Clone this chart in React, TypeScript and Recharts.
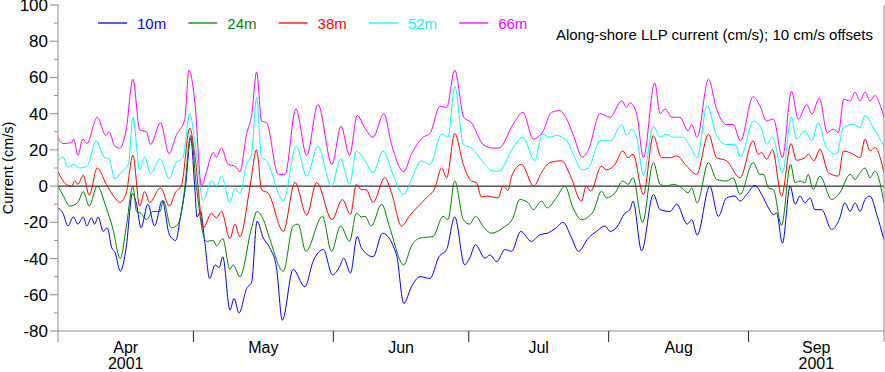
import React from 'react';
import { LineChart, Line, XAxis, YAxis, ReferenceLine } from 'recharts';

// day 0 = 1 Apr 2001, day 183 = 1 Oct 2001
const monthNames = ['Apr', 'May', 'Jun', 'Jul', 'Aug', 'Sep'];
const monthStarts = [0, 30, 61, 91, 122, 153, 183];
const yearLabel = '2001';
const yTicks = [-80, -70, -60, -50, -40, -30, -20, -10, 0, 10, 20, 30, 40, 50, 60, 70, 80, 90, 100];

const seriesNames = ['10m', '24m', '38m', '52m', '66m'];
const seriesColors = ['#0000ff', '#008000', '#ff0000', '#00ffff', '#ff00ff'];

const s10: [number, number][] = [[0,-12],[1.1,-15],[2.2,-22],[3.4,-17],[4.4,-21],[5.6,-17],[6.4,-22],[7.4,-17.5],[8.1,-21],[8.9,-17],[10,-25],[10.9,-23],[11.9,-34],[12.7,-37],[13.8,-47],[15.1,-34],[16.5,-4],[17.4,-10],[18.4,-23],[19.9,-10],[21.4,-22],[23.1,-8],[24.7,-27],[26.1,-30],[27,-19],[28.3,1],[29.4,26.5],[30.3,-1],[30.8,-17],[31.6,-14],[32.5,-30.5],[33.6,-51],[34.8,-43.5],[35.7,-45],[36.5,-39],[38.1,-68.5],[39.0,-62],[40.1,-70],[41.8,-56.5],[42.9,-53],[44.1,-19.4],[45.5,-28.7],[46.9,-34],[48.4,-45],[49.7,-74],[52.1,-46],[54.7,-55.6],[56.5,-41.7],[58.8,-35],[60.8,-49],[62.4,-44.4],[63.3,-39.8],[64.8,-48],[66.3,-27.8],[67.2,-34],[69.8,-39],[71.9,-26],[75,-38],[76.6,-64.8],[78.3,-55.6],[80.2,-50],[82.4,-51],[84.4,-39],[86.1,-35],[87.9,-17],[90.1,-43.5],[91.2,-39.8],[92.5,-32.4],[94.6,-39.8],[95.7,-38],[97.2,-41.7],[99,-35],[100.5,-36],[102.5,-25],[104.9,-30.5],[106.8,-26.8],[108.4,-26],[110.4,-23],[111.9,-20],[113.8,-28.7],[115.3,-36],[117.5,-28.7],[119.3,-25],[121.2,-22],[122.3,-25],[123.7,-23],[125.6,-15],[126.7,-13],[127.4,-8.3],[129.3,-35.7],[131.9,-4.6],[133.4,-13],[135.6,-14],[137.1,-10],[139.4,-21],[140.4,-18.5],[141.6,-27],[144.4,0],[146.3,-16.7],[148.1,-6.5],[150,-5.5],[151.1,-8.3],[152.6,-4.6],[154.4,0.4],[155.9,-4.6],[157.4,-12],[158.5,-15.7],[159.2,-14.8],[160.5,-31.5],[162.2,0],[163.3,-10],[164.4,-5.5],[165.5,-9.3],[166.6,-6.5],[167.7,-13],[169.2,-13],[171.4,-24],[173.2,-17.6],[174.3,-9.3],[175.5,-13.9],[176.6,-9.3],[177.7,-13.9],[178.8,-7.4],[179.9,-5.5],[181.4,-15.7],[183,-29.6]];

const s24: [number, number][] = [[0,0],[1.1,-5],[2.6,-11],[4.4,-9],[5.6,-3],[6.9,-11],[8.7,0],[10.7,-12],[12.1,-23],[13.8,-40],[15.1,-23],[16.6,0],[17.4,-14],[18.4,-15],[19.6,-18.5],[21.0,-14],[22.6,-14],[23.3,-8],[25.1,-23],[26.6,-21],[27.9,-5],[29.4,28],[30.7,-1],[32.2,-27],[32.9,-30.5],[34.4,-30],[35.1,-33],[36.5,-29],[38.1,-46],[38.8,-43.5],[40.3,-50],[42.9,-23],[44.1,-14],[45.5,-18.5],[46.9,-29],[49.9,-47],[52.1,-22],[53.2,-21],[54.9,-36],[58.6,-16.7],[60.6,-36],[62.6,-22],[64.6,-30.5],[66.1,-15],[67.2,-17],[68,-16.7],[69.4,-22],[71.7,-10],[73.5,-23],[76.6,-43.5],[78.3,-33],[80.2,-28.7],[83.1,-27.8],[85.3,-16.7],[86.4,-18.5],[87.9,2.8],[89.8,-18.5],[91.2,-21],[92.5,-16.7],[94.4,-23],[96,-26],[98.6,-23],[100.8,-17.6],[102.3,-7.4],[104.2,-9.3],[105.3,-13],[107.1,-8.3],[108.4,-12],[110.4,-6.5],[112.3,0],[114.1,-12],[116,-18.5],[118.6,-14],[120.4,-2.8],[121.5,-6.5],[123.4,-3.7],[125.1,2.8],[126.3,1],[127.4,4.6],[129.5,-20],[131.9,13],[133.4,1],[134.8,0],[136.3,1],[138.2,-1],[139.6,-3.7],[140.4,-1],[141.6,-9.3],[144.1,13],[145.9,3.7],[148.1,2.8],[149.6,4.6],[151.1,-4.6],[154,13],[155.5,6.5],[156.3,6.5],[157.4,-1],[158.5,-1.9],[160.3,-21.7],[162.3,12],[163.3,1.9],[164.4,2.8],[165.5,1.9],[166.2,6.5],[167.3,-1.9],[168.8,5.5],[171.4,-7.4],[173.2,-3.7],[175.5,6.5],[176.6,3.7],[177.7,7.4],[178.8,10],[179.9,4.6],[181,8.3],[183,-9.3]];

const s38: [number, number][] = [[0,8],[1.8,1],[3,0],[3.7,3],[4.4,1],[5.6,6],[6.9,-5],[8.7,10],[10.7,1],[12.6,-6.5],[13.7,-9],[15.1,-4],[16.6,17],[18.1,-11],[19.2,-3],[20.3,-9],[22.7,-1],[24.7,-11],[25.9,-4],[27.4,1],[29.2,32],[30.3,17.6],[32.2,-23],[34.0,-15],[35.1,-17.6],[36.2,-14],[38.1,-29],[39.2,-21],[40.3,-28],[42.5,-1],[44.0,20],[45.1,-2],[46.6,-4],[49.9,-25],[52.5,2],[55.1,-16],[57.3,2],[60.7,-18.5],[63,-7.4],[64.8,-15.5],[66.1,1],[67.2,-2],[68.3,-2],[69.8,-9],[72.4,4.6],[73.9,-3.7],[76.1,-22],[78,-16],[81.6,-6.5],[83.5,-1],[85,10],[86.1,4.6],[87.9,29],[89.8,12],[91.6,2.8],[92.7,2],[93.8,-6],[95,-5.5],[97.5,-6.5],[98.6,0],[99.7,-2.4],[100.5,5.5],[102.7,12],[105.4,0],[107.1,7.4],[109,13],[111.6,14],[113.4,6.5],[116,-8.3],[117,0],[118,-2.8],[120.4,11],[121.5,9],[123.4,12],[125.1,19.4],[126.3,15.7],[127.4,17.6],[129.7,-4.6],[131.9,27.8],[133.7,15.7],[135.6,15.7],[137.1,16.7],[139.3,11],[141.5,6.5],[144.1,28.7],[145.9,15.7],[148.1,14],[151.1,4.6],[154,25],[155.1,17.6],[155.9,18.5],[157,14.8],[158.3,20],[160.3,-5.5],[162.4,23.5],[163.6,14.3],[165.5,15.7],[166.2,17.6],[167.5,14],[168.8,20.4],[170.7,7.4],[172.9,5.5],[174,19.4],[176.2,17.6],[177.7,15.7],[178.8,26],[179.9,19.4],[181,21.3],[183,7.4]];

const s52: [number, number][] = [[0,14],[1.1,16],[2.2,10.5],[3.4,12],[4.8,10],[6.4,11],[8.5,25],[10.2,16],[11.3,15],[12.6,4],[14.1,8],[15.6,12],[16.6,38],[18.1,9],[19.2,16],[20.5,7],[22.6,15],[24.7,4],[25.9,12],[27.7,16],[29.2,40],[30.3,25],[32.2,-8],[34.0,3],[35.1,0],[36.2,5.5],[38.1,-9],[39.2,-1],[40.3,-4],[41.8,12],[42.9,17.6],[44.0,49],[45.1,16],[46.2,14],[49.9,-8],[52.8,22],[55.1,5.5],[57.6,22],[60.6,0],[62.6,15],[64.6,1],[66.1,19.4],[68,14],[69.8,7.4],[72,19.4],[74.2,6.5],[76.5,-4.6],[78.3,3.7],[80.5,14],[82.4,12],[85,28.7],[86.4,27],[87.9,55],[89.8,23],[91.6,21],[94.6,12],[96.4,8.3],[97.7,8.3],[100.8,21],[103,27],[105.6,14],[107.3,28.7],[108.9,27],[110.4,28],[112.7,25],[114.5,15.7],[116,9],[117.5,10],[120.1,25],[122.4,25],[124.9,34],[126,28],[127.1,31.5],[128.2,27],[129.7,6],[131.9,33],[133.4,27],[134.8,28.7],[136.3,27],[138.5,27],[140,22],[141.6,15.7],[143.8,44.4],[145.9,28],[148.1,23],[150,23],[151.2,16],[154.1,36],[155.9,31.5],[157,23],[158.3,27],[160.5,7.4],[162.5,38],[163.6,26],[165.5,30.5],[167,25],[168.4,35],[170.3,21],[172.5,17.6],[174,32.4],[176.2,34],[177.7,32.4],[178.8,39],[180.6,32.4],[183,22]];

const s66: [number, number][] = [[0,27],[1.1,23.5],[3,24],[3.5,26],[4.4,17],[5.5,26],[6.4,23.5],[8.7,38],[10.6,28],[11.3,30],[12.6,22],[13.7,21],[15.1,31],[16.6,59],[18.1,31],[19.6,30],[20.5,23],[22.7,35],[24.6,18],[26.2,28],[28.1,37],[29.0,64],[30.3,47],[31.8,0],[32.9,8],[34.4,18.5],[35.1,16],[36.2,21],[37.7,12],[39.2,11],[40.3,8],[41.8,29],[42.9,39],[44.0,63],[45.1,36],[46.2,35],[48.8,6.5],[50.3,6.5],[52.7,42.6],[55.1,17],[57.6,45],[60.7,12],[62.7,33],[64.6,17],[66.3,39],[68,32],[69.8,27],[72.2,40],[73.9,23],[76.6,8],[78.3,17.6],[80.9,27],[82.4,29],[84.6,44],[86.1,43.5],[87.9,64],[89.9,38],[91.6,35],[94.2,23],[96.4,21],[97.7,21],[100.8,34],[103,40.7],[105.3,26],[107.5,30.5],[109.3,40.7],[111.2,41.7],[112.5,38],[114.1,28.7],[116.2,16],[117.5,20],[120.1,40],[122.3,38],[124.9,47],[126,43.5],[126.7,46],[128.2,40],[129.7,15.7],[132.2,57],[133.4,40],[134.5,42.6],[136,38],[137.8,38],[139.6,30.5],[140.4,34],[141.6,27],[144.1,59],[145.9,42.6],[148.1,34],[149.6,34],[151.2,25],[154.0,49.4],[155.5,44.4],[157,36],[158.5,37],[160.5,15.7],[162.5,52.4],[164,37],[165.9,45],[167,39.8],[168.7,48.7],[170.4,29.6],[171.8,31.5],[172.9,29.6],[174.1,48],[175.5,47],[176.6,51.8],[177.7,47],[178.8,52],[179.9,47],[181,50],[182.1,45],[183,38]];

const allSeries = [s10, s24, s38, s52, s66];

const AXIS_GREY = '#8c8c8c';
const FONT = '"Liberation Sans", Arial, Helvetica, sans-serif';

const monthMids = monthNames.map((_, i) => (monthStarts[i] + monthStarts[i + 1]) / 2);
const xTicks = [...monthStarts, ...monthMids].sort((a, b) => a - b);

const XTick = (props: any) => {
  const { x, y, payload } = props;
  const v = payload.value;
  const bi = monthStarts.indexOf(v);
  if (bi >= 0) {
    return <line x1={x} x2={x} y1={y} y2={y + 11} stroke={bi === 0 || bi === monthStarts.length - 1 ? AXIS_GREY : '#222'} strokeWidth={1} />;
  }
  const mi = monthMids.indexOf(v);
  const showYear = mi === 0 || mi === monthNames.length - 1;
  return (
    <g>
      <text x={x} y={y + 22} textAnchor="middle" fontSize={16} fill="#000" fontFamily={FONT}>{monthNames[mi]}</text>
      {showYear && <text x={x} y={y + 38} textAnchor="middle" fontSize={16} fill="#000" fontFamily={FONT}>{yearLabel}</text>}
    </g>
  );
};

const YTick = (props: any) => {
  const { x, y, payload } = props;
  const v = payload.value;
  const major = v % 20 === 0;
  return (
    <g>
      <line x1={x - (major ? 8 : 4)} x2={x} y1={y} y2={y} stroke={AXIS_GREY} strokeWidth={1} />
      {major && (
        <text x={x - 10} y={y + 6} textAnchor="end" fontSize={17} fill="#000" fontFamily={FONT}>{v}</text>
      )}
    </g>
  );
};

export default function App() {
  return (
    <div style={{ position: 'absolute', left: 0, top: 0, width: 885, height: 372, background: '#fff', fontFamily: FONT }}>
      <LineChart width={885} height={372} margin={{ top: 5, right: 0, bottom: 0, left: 0 }}>
        <XAxis
          xAxisId="top"
          orientation="top"
          type="number"
          dataKey="day"
          domain={[0, 183]}
          height={0}
          tick={false}
          tickLine={false}
          stroke={AXIS_GREY}
        />
        <XAxis
          type="number"
          dataKey="day"
          domain={[0, 183]}
          allowDataOverflow
          ticks={xTicks}
          interval={0}
          height={41}
          tickSize={0}
          tickMargin={0}
          tickLine={false}
          stroke={AXIS_GREY}
          tick={<XTick />}
        />
        <YAxis
          type="number"
          domain={[-80, 100]}
          ticks={yTicks}
          interval={0}
          width={58}
          tickSize={0}
          tickMargin={0}
          tickLine={false}
          stroke={AXIS_GREY}
          tick={<YTick />}
          allowDataOverflow
        />
        <YAxis
          yAxisId="r"
          orientation="right"
          type="number"
          domain={[-80, 100]}
          width={1}
          tick={false}
          tickLine={false}
          stroke={AXIS_GREY}
        />
        <ReferenceLine y={0} stroke="#000" strokeWidth={1} />
        {allSeries.map((s, i) => (
          <Line
            key={seriesNames[i]}
            data={s.map(([day, v]) => ({ day, v }))}
            dataKey="v"
            type="monotone"
            stroke={seriesColors[i]}
            strokeWidth={1}
            dot={false}
            activeDot={false}
            isAnimationActive={false}
          />
        ))}
      </LineChart>
      <svg width={885} height={50} style={{ position: 'absolute', left: 0, top: 0, pointerEvents: 'none' }}>
        {seriesNames.map((n, i) => {
          const x0 = 98 + i * 90.3;
          return (
            <g key={n}>
              <line x1={x0} x2={x0 + 29} y1={23} y2={23} stroke={seriesColors[i]} strokeWidth={1.3} />
              <text x={x0 + 39} y={29} fontSize={15} fill={seriesColors[i]} fontFamily={FONT}>{n}</text>
            </g>
          );
        })}
        <text x={873} y={40} textAnchor="end" fontSize={15} fill="#000" fontFamily={FONT}>
          Along-shore LLP current (cm/s); 10 cm/s offsets
        </text>
      </svg>
      <svg width={24} height={372} style={{ position: 'absolute', left: 0, top: 0, pointerEvents: 'none' }}>
        <text x={0} y={0} transform="translate(13,168) rotate(-90)" textAnchor="middle" fontSize={14.5} fill="#000" fontFamily={FONT}>
          Current (cm/s)
        </text>
      </svg>
    </div>
  );
}
